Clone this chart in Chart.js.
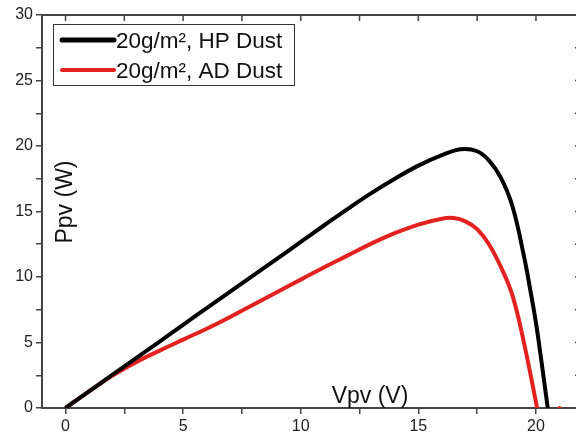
<!DOCTYPE html>
<html>
<head>
<meta charset="utf-8">
<script src="https://cdn.jsdelivr.net/npm/chart.js@4.4.1/dist/chart.umd.min.js"></script>
<style>
  html, body { margin: 0; padding: 0; background: #fff; overflow: hidden; }
  #wrap { width: 600px; height: 439px; }
</style>
</head>
<body>
<div id="wrap"><canvas id="pvChart" width="600" height="439"></canvas></div>
<script>
// P-V curves
const vHP = [0, 1, 2, 3, 4, 5, 6, 7, 8, 9, 10, 11, 12, 13, 14, 15, 16, 16.8, 17.5, 18, 18.5, 19, 19.5, 19.75, 20, 20.2, 20.5];
const pHP = [0, 1.27, 2.54, 3.8, 5.07, 6.35, 7.62, 8.88, 10.14, 11.4, 12.68, 13.95, 15.2, 16.4, 17.5, 18.5, 19.3, 19.75, 19.6, 18.9, 17.6, 15.4, 11.5, 9.1, 6.5, 4.0, 0];

const vAD = [0, 1, 2, 3, 4, 5, 6, 7, 8, 9, 10, 11, 12, 13, 14, 15, 16, 16.5, 17, 17.5, 18, 18.5, 19, 19.5, 20.05];
const pAD = [0, 1.27, 2.48, 3.5, 4.38, 5.22, 6.05, 6.95, 7.9, 8.85, 9.8, 10.75, 11.65, 12.55, 13.35, 14.0, 14.45, 14.5, 14.25, 13.65, 12.5, 10.8, 8.6, 4.9, 0];

// stray marker near the axis
const vDot = [21];
const pDot = [0];

const seriesNames = ['20g/m\u00b2, HP Dust', '20g/m\u00b2, AD Dust'];
const seriesColors = ['#000000', '#e3211f'];

const xTickValues = [0, 2.5, 5, 7.5, 10, 12.5, 15, 17.5, 20];
const yTickValues = [0, 2.5, 5, 7.5, 10, 12.5, 15, 17.5, 20, 22.5, 25, 27.5, 30];

const FONT = "'Liberation Sans', Arial, sans-serif";
const AXIS_COLOR = '#444';

function toPoints(xs, ys) {
    return xs.map((x, i) => ({ x: x, y: ys[i] }));
}

function majorLabel(value) {
    return value % 5 === 0 ? String(value) : '';
}

// Top/right frame, axis titles and the boxed legend
const decorPlugin = {
    id: 'decor',
    afterDraw(chart) {
        const ctx = chart.ctx;
        const area = chart.chartArea;
        const xs = chart.scales.x;
        const ys = chart.scales.y;
        ctx.save();

        // top axis with inward ticks
        ctx.strokeStyle = AXIS_COLOR;
        ctx.lineWidth = 2;
        ctx.beginPath();
        ctx.moveTo(area.left - 1, area.top);
        ctx.lineTo(area.right, area.top);
        ctx.moveTo(area.right, area.top);
        ctx.lineTo(area.right, area.bottom);
        ctx.stroke();
        ctx.lineWidth = 1.5;
        ctx.beginPath();
        xTickValues.forEach(v => {
            const px = xs.getPixelForValue(v);
            ctx.moveTo(px, area.top);
            ctx.lineTo(px, area.top + 6);
        });
        yTickValues.forEach(v => {
            const py = ys.getPixelForValue(v);
            ctx.moveTo(area.right, py);
            ctx.lineTo(area.right - 8, py);
        });
        ctx.stroke();

        // axis titles inside the plot
        ctx.fillStyle = '#111';
        ctx.font = '23px ' + FONT;
        ctx.textAlign = 'center';
        ctx.textBaseline = 'alphabetic';
        ctx.fillText('Vpv (V)', 370, 403);
        ctx.save();
        ctx.translate(72, 202);
        ctx.rotate(-Math.PI / 2);
        ctx.fillText('Ppv (W)', 0, 0);
        ctx.restore();

        // legend box
        ctx.strokeStyle = '#333';
        ctx.lineWidth = 1;
        ctx.fillStyle = '#fff';
        ctx.fillRect(53.5, 24.5, 241, 61);
        ctx.strokeRect(53.5, 24.5, 241, 61);
        const rows = [40, 70];
        rows.forEach((y, i) => {
            ctx.strokeStyle = seriesColors[i];
            ctx.lineWidth = i === 0 ? 5 : 4;
            ctx.lineCap = 'round';
            ctx.beginPath();
            ctx.moveTo(62, y);
            ctx.lineTo(114, y);
            ctx.stroke();
            ctx.fillStyle = '#111';
            ctx.font = '22.5px ' + FONT;
            ctx.textAlign = 'left';
            ctx.textBaseline = 'alphabetic';
            ctx.fillText(seriesNames[i], 116, y + 7.5);
        });
        ctx.restore();
    }
};

const chart = new Chart(document.getElementById('pvChart'), {
    type: 'scatter',
    data: {
        datasets: [
            {
                label: seriesNames[0],
                data: toPoints(vHP, pHP),
                showLine: true,
                borderColor: seriesColors[0],
                borderWidth: 4,
                pointRadius: 0,
                tension: 0.4
            },
            {
                label: seriesNames[1],
                data: toPoints(vAD, pAD),
                showLine: true,
                borderColor: seriesColors[1],
                borderWidth: 4,
                pointRadius: 0,
                tension: 0.4
            },
            {
                label: 'dot',
                data: toPoints(vDot, pDot),
                showLine: false,
                pointRadius: 2,
                pointBorderWidth: 0,
                backgroundColor: seriesColors[1]
            }
        ]
    },
    options: {
        responsive: false,
        animation: false,
        events: [],
        layout: { padding: { top: 15, right: 17, left: 0, bottom: 0 } },
        plugins: {
            legend: { display: false },
            tooltip: { enabled: false }
        },
        scales: {
            x: {
                type: 'linear',
                min: -1,
                max: 22,
                afterBuildTicks: scale => { scale.ticks = xTickValues.map(v => ({ value: v })); },
                afterFit: scale => { scale.height = 31; },
                ticks: {
                    autoSkip: false,
                    maxRotation: 0,
                    padding: 3,
                    color: '#222',
                    font: { family: FONT, size: 16 },
                    callback: majorLabel
                },
                grid: { drawOnChartArea: false, drawTicks: true, tickLength: 6, color: AXIS_COLOR, lineWidth: 1.5 },
                border: { display: true, color: AXIS_COLOR, width: 2 }
            },
            y: {
                type: 'linear',
                min: 0,
                max: 30,
                afterBuildTicks: scale => { scale.ticks = yTickValues.map(v => ({ value: v })); },
                afterFit: scale => { scale.width = 42; },
                ticks: {
                    autoSkip: false,
                    padding: 3,
                    color: '#222',
                    font: { family: FONT, size: 16 },
                    callback: majorLabel
                },
                grid: { drawOnChartArea: false, drawTicks: true, tickLength: 6, color: AXIS_COLOR, lineWidth: 1.5 },
                border: { display: true, color: AXIS_COLOR, width: 2 }
            }
        }
    },
    plugins: [decorPlugin]
});
</script>
</body>
</html>
